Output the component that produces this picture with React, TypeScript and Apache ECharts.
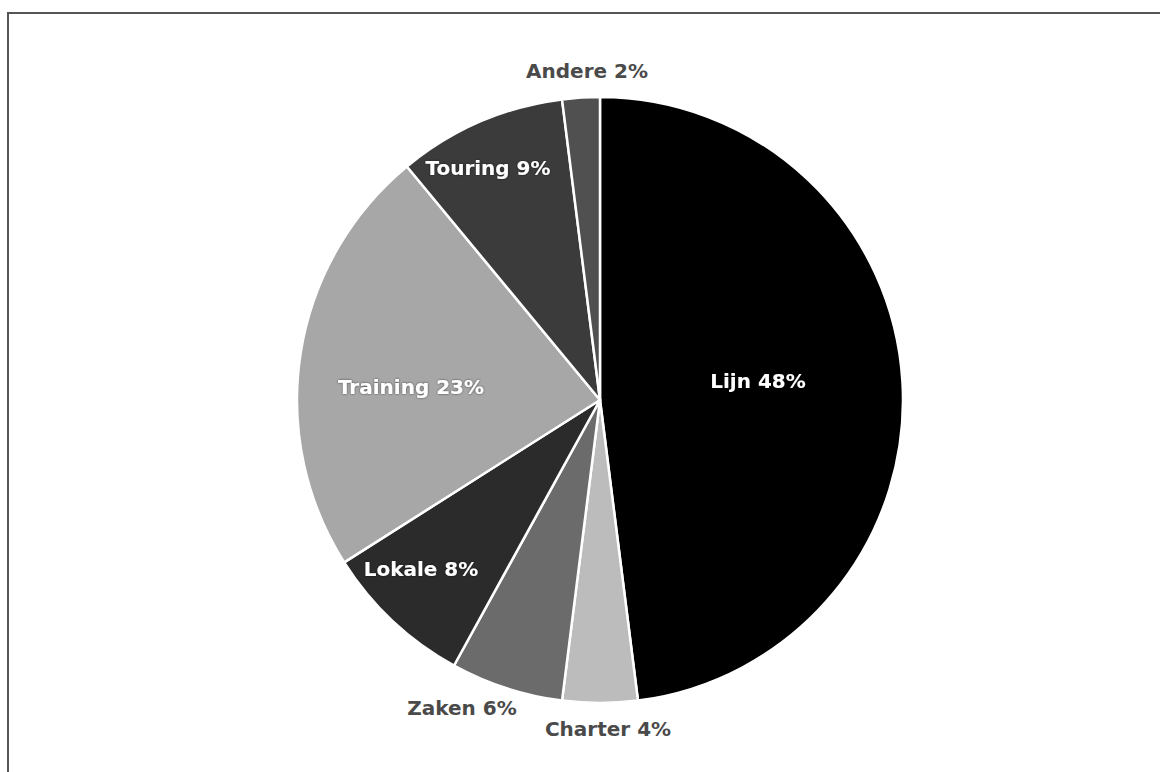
import React, { useEffect, useRef } from "react";
import * as echarts from "echarts";

// Share per segment, clockwise from 12 o'clock
const categories = ["Lijn", "Charter", "Zaken", "Lokale", "Training", "Touring", "Andere"];
const shares = [48, 4, 6, 8, 23, 9, 2];

const sliceColors = ["#000000", "#bcbcbc", "#6b6b6b", "#2b2b2b", "#a7a7a7", "#3b3b3b", "#505050"];
// Labels drawn on top of the slice (white) vs. next to it (dark grey)
const insideLabel = [true, false, false, true, true, true, false];
// Label centres, in pixels relative to the pie centre
const labelOffsets: [number, number][] = [
  [158, -19],
  [8, 329],
  [-138, 308],
  [-179, 169],
  [-189, -13],
  [-112, -232],
  [-13, -329],
];

const CENTER: [number, number] = [600, 400];
const RADIUS = 303;

export default function App() {
  const ref = useRef<HTMLDivElement>(null);

  useEffect(() => {
    if (!ref.current) return;
    const chart = echarts.init(ref.current, undefined, { renderer: "svg" });

    const data = categories.map((name, i) => ({
      name,
      value: shares[i],
      itemStyle: { color: sliceColors[i] },
      label: {
        color: insideLabel[i] ? "#ffffff" : "#4a4a4a",
        textShadowColor: insideLabel[i] ? "rgba(0,0,0,0.6)" : "transparent",
        textShadowBlur: insideLabel[i] ? 2 : 0,
      },
    }));

    chart.setOption({
      animation: false,
      backgroundColor: "#ffffff",
      graphic: [
        {
          type: "line",
          shape: { x1: 7, y1: 13, x2: 1160, y2: 13 },
          style: { stroke: "#555555", lineWidth: 2 },
        },
        {
          type: "line",
          shape: { x1: 8, y1: 12, x2: 8, y2: 772 },
          style: { stroke: "#555555", lineWidth: 2 },
        },
      ],
      series: [
        {
          type: "pie",
          center: CENTER,
          radius: RADIUS,
          startAngle: 90,
          clockwise: true,
          avoidLabelOverlap: false,
          data,
          itemStyle: { borderColor: "#ffffff", borderWidth: 2.5 },
          label: {
            show: true,
            position: "inside",
            formatter: (p: any) => `${p.name} ${p.value}%`,
            fontFamily: "DejaVu Sans",
            fontWeight: "bold",
            fontSize: 20,
          },
          labelLine: { show: false },
          labelLayout: (params: any) => {
            const [dx, dy] = labelOffsets[params.dataIndex];
            return {
              x: CENTER[0] + dx,
              y: CENTER[1] + dy,
              align: "center",
              verticalAlign: "middle",
            };
          },
          emphasis: { disabled: true },
        },
      ],
    });

    return () => chart.dispose();
  }, []);

  return (
    <div
      ref={ref}
      style={{ position: "fixed", left: 0, top: 0, width: 1160, height: 772 }}
    />
  );
}
